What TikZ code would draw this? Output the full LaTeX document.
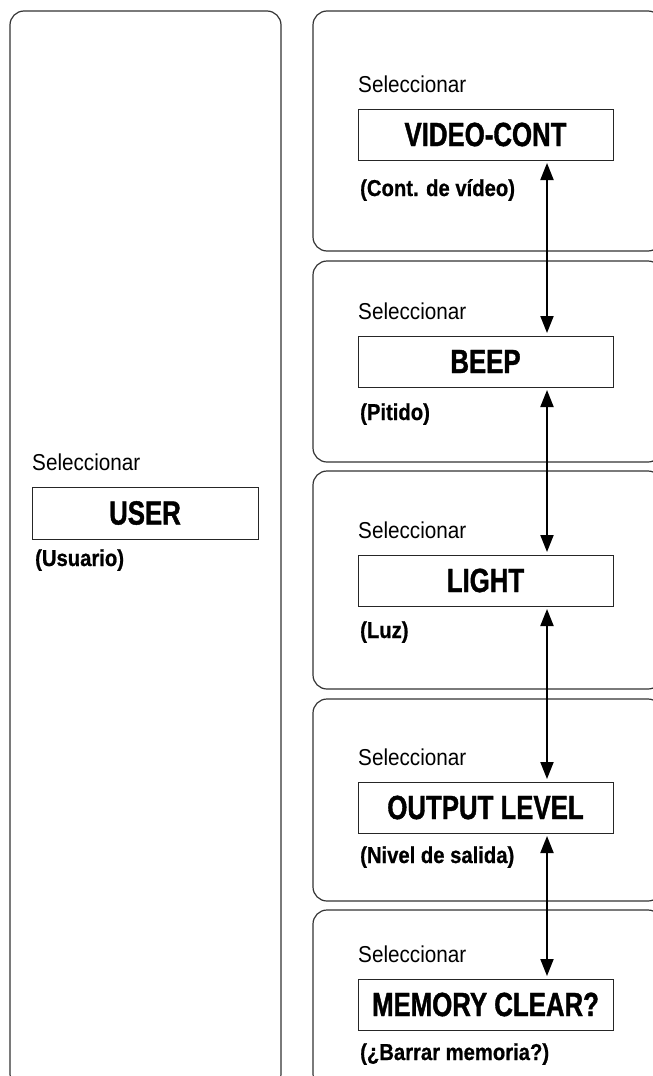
\documentclass[tikz,border=0pt]{standalone}
\usepackage{fontspec}
\setmainfont{Liberation Sans}
\newfontfamily\selfont{Liberation Sans}[FakeStretch=0.9]
\newfontfamily\subfont{Liberation Sans}[UprightFont=* Bold,FakeStretch=0.88,FakeBold=0.8]
\newfontfamily\titfont{Liberation Sans}[UprightFont=* Bold,FakeStretch=0.77,FakeBold=1.2]
\usetikzlibrary{arrows.meta}
\tikzset{
  panel/.style={draw=black!80,line width=1.2pt,rounded corners=14pt},
  menubox/.style={draw=black!85,line width=1pt,minimum width=255pt,minimum height=51pt,
    inner sep=0pt,font=\titfont\fontsize{33.5}{36}\selectfont},
  sellab/.style={anchor=base west,inner sep=0pt,font=\selfont\fontsize{23}{26}\selectfont},
  sublab/.style={anchor=base west,inner sep=0pt,font=\subfont\fontsize{23}{26}\selectfont},
  updown/.style={{Triangle[length=17pt,width=13pt]}-{Triangle[length=17pt,width=13pt]},
    line width=2pt,shorten >=2.5pt,shorten <=2.5pt}}
\begin{document}
\begin{tikzpicture}[x=1pt,y=-1pt]
\useasboundingbox (0,0) rectangle (653,1076);
\clip (0,0) rectangle (653,1076);
% panels
\draw[panel] (10,11) rectangle (281,1088);
\draw[panel] (313,11) rectangle (662,251);
\draw[panel] (313,261) rectangle (662,462);
\draw[panel] (313,471) rectangle (662,689);
\draw[panel] (313,699) rectangle (662,901);
\draw[panel] (313,910) rectangle (662,1088);
% left: user
\node[sellab] (selU) at (32,470) {Seleccionar};
\node[menubox,minimum width=226pt,minimum height=52pt] (user) at (145,513) {USER};
\node[sublab] (subU) at (35,566) {(Usuario)};
% right column
\node[sellab] (selV) at (358,92) {Seleccionar};
\node[menubox] (vcont) at (485.5,134.5) {VIDEO-CONT};
\node[sublab] (subV) at (360,196) {(Cont. de vídeo)};
\node[sellab] (selB) at (358,319) {Seleccionar};
\node[menubox] (beep) at (485.5,361.5) {BEEP};
\node[sublab] (subB) at (360,420) {(Pitido)};
\node[sellab] (selL) at (358,538) {Seleccionar};
\node[menubox] (light) at (485.5,580.5) {LIGHT};
\node[sublab] (subL) at (360,638) {(Luz)};
\node[sellab] (selO) at (358,765) {Seleccionar};
\node[menubox] (outlvl) at (485.5,807.5) {OUTPUT LEVEL};
\node[sublab] (subO) at (360,863) {(Nivel de salida)};
\node[sellab] (selM) at (358,962) {Seleccionar};
\node[menubox] (memclr) at (485.5,1004.5) {MEMORY CLEAR?};
\node[sublab] (subM) at (360,1060) {(¿Barrar memoria?)};
% arrows
\draw[updown] ([xshift=61.5pt]vcont.south) -- ([xshift=61.5pt]beep.north);
\draw[updown] ([xshift=61.5pt]beep.south) -- ([xshift=61.5pt]light.north);
\draw[updown] ([xshift=61.5pt]light.south) -- ([xshift=61.5pt]outlvl.north);
\draw[updown] ([xshift=61.5pt]outlvl.south) -- ([xshift=61.5pt]memclr.north);
\end{tikzpicture}
\end{document}
